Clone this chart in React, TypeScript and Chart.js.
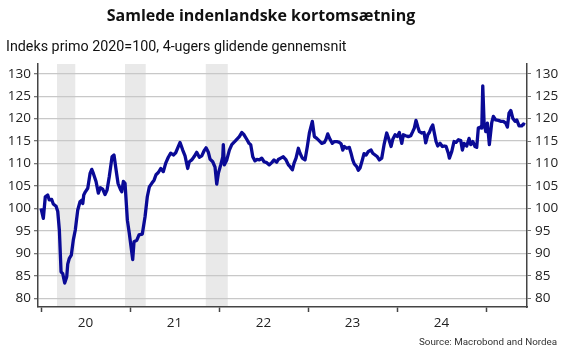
import React, { useEffect, useRef } from "react";
import { Chart, registerables } from "chart.js";

Chart.register(...registerables);

const titleText = "Samlede indenlandske kortomsætning";
const subtitleText = "Indeks primo 2020=100, 4-ugers glidende gennemsnit";
const sourceText = "Source: Macrobond and Nordea";

const yearStarts = [2020, 2021, 2022, 2023, 2024, 2025];
const yearLabels = ["20", "21", "22", "23", "24"];
const yTicks = [80, 85, 90, 95, 100, 105, 110, 115, 120, 125, 130];

const bandStarts = [2020.18, 2020.944, 2021.851];
const bandEnds = [2020.385, 2021.176, 2022.098];

const dates = [
  2020.0, 2020.026, 2020.048, 2020.075, 2020.093, 2020.12, 2020.138, 2020.169, 2020.188, 2020.206,
  2020.225, 2020.244, 2020.266, 2020.289, 2020.3, 2020.318, 2020.34, 2020.363, 2020.385, 2020.412,
  2020.438, 2020.461, 2020.469, 2020.48, 2020.498, 2020.525, 2020.551, 2020.57, 2020.588, 2020.618,
  2020.644, 2020.666, 2020.693, 2020.719, 2020.742, 2020.767, 2020.798, 2020.82, 2020.843, 2020.865,
  2020.896, 2020.907, 2020.925, 2020.944, 2020.97, 2020.992, 2021.03, 2021.045, 2021.075, 2021.101,
  2021.138, 2021.169, 2021.194, 2021.217, 2021.244, 2021.27, 2021.292, 2021.318, 2021.345, 2021.374,
  2021.401, 2021.43, 2021.457, 2021.487, 2021.513, 2021.543, 2021.562, 2021.592, 2021.618, 2021.648,
  2021.666, 2021.693, 2021.719, 2021.749, 2021.779, 2021.806, 2021.831, 2021.854, 2021.88, 2021.899,
  2021.929, 2021.955, 2021.974, 2021.992, 2022.019, 2022.042, 2022.048, 2022.06, 2022.087, 2022.116,
  2022.143, 2022.172, 2022.199, 2022.228, 2022.255, 2022.281, 2022.311, 2022.337, 2022.356, 2022.379,
  2022.404, 2022.424, 2022.453, 2022.48, 2022.506, 2022.536, 2022.565, 2022.592, 2022.618, 2022.648,
  2022.666, 2022.693, 2022.722, 2022.753, 2022.779, 2022.798, 2022.824, 2022.843, 2022.865, 2022.891,
  2022.91, 2022.936, 2022.966, 2022.992, 2023.015, 2023.048, 2023.071, 2023.098, 2023.124, 2023.154,
  2023.183, 2023.202, 2023.221, 2023.247, 2023.273, 2023.296, 2023.322, 2023.352, 2023.371, 2023.39,
  2023.408, 2023.435, 2023.464, 2023.483, 2023.502, 2023.52, 2023.547, 2023.565, 2023.584, 2023.61,
  2023.629, 2023.652, 2023.678, 2023.708, 2023.727, 2023.753, 2023.779, 2023.801, 2023.828, 2023.854,
  2023.884, 2023.91, 2023.933, 2023.952, 2023.978, 2024.003, 2024.026, 2024.053, 2024.071, 2024.098,
  2024.127, 2024.154, 2024.176, 2024.194, 2024.213, 2024.233, 2024.251, 2024.278, 2024.303, 2024.322,
  2024.345, 2024.363, 2024.382, 2024.401, 2024.419, 2024.438, 2024.457, 2024.483, 2024.509, 2024.531,
  2024.551, 2024.576, 2024.588, 2024.615, 2024.64, 2024.663, 2024.689, 2024.716, 2024.734, 2024.753,
  2024.783, 2024.809, 2024.828, 2024.851, 2024.876, 2024.895, 2024.913, 2024.933, 2024.952, 2024.963,
  2024.978, 2024.997, 2025.015, 2025.037, 2025.064, 2025.082, 2025.109, 2025.138, 2025.169, 2025.194,
  2025.221, 2025.24, 2025.258, 2025.278, 2025.3, 2025.326, 2025.345, 2025.371, 2025.401, 2025.419,
  2025.438,
];

const values = [
  100.0, 97.8, 102.6, 103.0, 101.9, 102.0, 101.0, 100.5, 99.3, 95.2,
  85.9, 85.5, 83.4, 84.8, 87.6, 88.9, 89.6, 93.0, 95.2, 99.6,
  101.5, 101.9, 101.1, 103.0, 103.7, 104.5, 107.8, 108.7, 107.8, 106.0,
  103.4, 104.6, 104.3, 103.1, 104.1, 107.1, 111.5, 111.9, 108.6, 105.6,
  104.1, 103.7, 106.0, 105.6, 97.4, 94.4, 88.6, 92.6, 92.9, 94.1,
  94.3, 98.2, 102.6, 104.8, 105.6, 106.3, 107.5, 108.0, 108.9, 108.2,
  110.1, 111.4, 112.3, 111.9, 112.4, 113.8, 114.7, 113.0, 111.7, 108.9,
  110.4, 110.8, 111.5, 112.5, 111.4, 111.7, 112.8, 113.5, 112.5, 111.0,
  110.4, 109.2, 105.4, 107.8, 109.7, 111.5, 114.2, 109.7, 110.8, 113.0,
  114.2, 114.8, 115.4, 116.0, 116.9, 116.4, 115.4, 114.5, 114.2, 111.5,
  110.6, 110.9, 110.8, 111.2, 110.4, 110.2, 109.7, 110.2, 110.8, 110.3,
  110.9, 111.2, 111.5, 110.8, 109.7, 109.3, 108.6, 110.1, 111.2, 113.4,
  112.3, 111.2, 110.8, 113.8, 116.8, 119.4, 116.0, 115.6, 115.1, 114.5,
  114.7, 115.4, 116.6, 115.4, 114.5, 114.9, 114.9, 114.7, 114.4, 113.0,
  113.8, 113.4, 113.6, 112.3, 110.8, 109.9, 109.3, 108.5, 109.0, 110.8,
  112.2, 111.9, 112.7, 113.0, 112.3, 111.9, 111.5, 110.8, 111.2, 114.2,
  116.8, 115.3, 113.8, 115.4, 116.4, 116.0, 116.9, 114.5, 116.4, 116.2,
  116.0, 116.2, 117.1, 117.9, 119.6, 118.2, 117.1, 116.8, 116.9, 114.6,
  116.4, 116.9, 117.9, 118.6, 116.8, 114.9, 113.9, 114.5, 113.8, 113.9,
  113.8, 112.3, 111.2, 112.7, 114.9, 114.7, 115.3, 115.1, 113.0, 114.5,
  113.9, 115.6, 114.2, 114.9, 113.8, 113.6, 117.9, 118.1, 117.9, 127.3,
  119.0, 117.1, 119.0, 114.2, 119.1, 120.5, 119.7, 119.6, 119.4, 119.4,
  119.0, 118.1, 121.2, 121.8, 120.1, 119.4, 119.7, 118.4, 118.4, 118.8,
  118.6,
];

const X_MIN = 2019.966;
const X_MAX = 2025.46;
const Y_MIN = 78.06;
const Y_MAX = 132.16;

const tickFont = { family: "'Open Sans', sans-serif", size: 13.5 };

const bandsPlugin = {
  id: "bands",
  beforeDraw(chart: any) {
    const { ctx, chartArea, scales } = chart;
    ctx.save();
    ctx.fillStyle = "#e9e9e9";
    bandStarts.forEach((s, i) => {
      const x0 = scales.x.getPixelForValue(s);
      const x1 = scales.x.getPixelForValue(bandEnds[i]);
      ctx.fillRect(x0, chartArea.top, x1 - x0, chartArea.bottom - chartArea.top);
    });
    ctx.restore();
  },
};

export default function App() {
  const canvasRef = useRef<HTMLCanvasElement | null>(null);

  useEffect(() => {
    if (!canvasRef.current) return;
    const xTickValues: number[] = [];
    yearStarts.forEach((y, i) => {
      xTickValues.push(y);
      if (i < yearLabels.length) xTickValues.push(y + 0.5);
    });
    const chart = new Chart(canvasRef.current, {
      type: "line",
      data: {
        datasets: [
          {
            data: dates.map((d, i) => ({ x: d, y: values[i] })),
            borderColor: "#0a0a96",
            borderWidth: 3.3,
            pointRadius: 0,
            tension: 0,
            borderJoinStyle: "round",
            fill: false,
          },
        ],
      },
      options: {
        animation: false,
        responsive: false,
        maintainAspectRatio: false,
        devicePixelRatio: 1,
        layout: { padding: { top: 64, left: 0, right: 0, bottom: 0 } },
        plugins: {
          legend: { display: false },
          tooltip: { enabled: false },
          title: { display: false },
        },
        scales: {
          x: {
            type: "linear",
            min: X_MIN,
            max: X_MAX,
            afterBuildTicks: (axis: any) => {
              axis.ticks = xTickValues.map((v) => ({ value: v }));
            },
            afterFit: (s: any) => {
              s.height = 51;
            },
            grid: {
              drawOnChartArea: false,
              drawTicks: true,
              tickLength: 5,
              tickWidth: 1.5,
              tickColor: (ctx: any) =>
                ctx.tick && Number.isInteger(ctx.tick.value) ? "#444444" : "rgba(0,0,0,0)",
            },
            border: { display: true, color: "#444444", width: 1.5 },
            ticks: {
              autoSkip: false,
              maxRotation: 0,
              padding: 3,
              color: "#222222",
              font: tickFont,
              callback: (v: any) => {
                const i = yearStarts.findIndex((y) => Math.abs(y + 0.5 - v) < 1e-6);
                return i >= 0 && i < yearLabels.length ? yearLabels[i] : "";
              },
            },
          },
          y: {
            position: "left",
            min: Y_MIN,
            max: Y_MAX,
            afterBuildTicks: (axis: any) => {
              axis.ticks = yTicks.map((v) => ({ value: v }));
            },
            afterFit: (s: any) => {
              s.width = 38;
            },
            grid: {
              color: "#c8c8c8",
              lineWidth: 1.3,
              tickLength: 4,
              tickColor: "#777777",
            },
            border: { display: true, color: "#444444", width: 1.5 },
            ticks: { padding: 3, color: "#222222", font: tickFont },
          },
          y2: {
            position: "right",
            min: Y_MIN,
            max: Y_MAX,
            afterBuildTicks: (axis: any) => {
              axis.ticks = yTicks.map((v) => ({ value: v }));
            },
            afterFit: (s: any) => {
              s.width = 39;
            },
            grid: {
              drawOnChartArea: false,
              tickLength: 4,
              tickColor: "#777777",
            },
            border: { display: true, color: "#444444", width: 1.5 },
            ticks: { padding: 4, color: "#222222", font: tickFont },
          },
        },
      },
      plugins: [bandsPlugin],
    } as any);
    return () => chart.destroy();
  }, []);

  return (
    <div
      style={{
        position: "absolute",
        left: 0,
        top: 0,
        width: 566,
        height: 358,
        background: "#ffffff",
        overflow: "hidden",
      }}
    >
      <canvas ref={canvasRef} width={566} height={358} style={{ position: "absolute", left: 0, top: 0 }} />
      <div
        style={{
          position: "absolute",
          left: 0,
          width: 522,
          top: 5,
          textAlign: "center",
          fontFamily: "'Open Sans', sans-serif",
          fontWeight: 700,
          fontSize: 16,
          lineHeight: "20px",
          color: "#111111",
          whiteSpace: "nowrap",
        }}
      >
        {titleText}
      </div>
      <div
        style={{
          position: "absolute",
          left: 6,
          top: 37,
          fontFamily: "Roboto, sans-serif",
          fontSize: 14.3,
          lineHeight: "18px",
          color: "#111111",
          whiteSpace: "nowrap",
        }}
      >
        {subtitleText}
      </div>
      <div
        style={{
          position: "absolute",
          right: 9,
          top: 336,
          fontFamily: "Roboto, sans-serif",
          fontSize: 9.8,
          lineHeight: "12px",
          color: "#333333",
          whiteSpace: "nowrap",
        }}
      >
        {sourceText}
      </div>
    </div>
  );
}
